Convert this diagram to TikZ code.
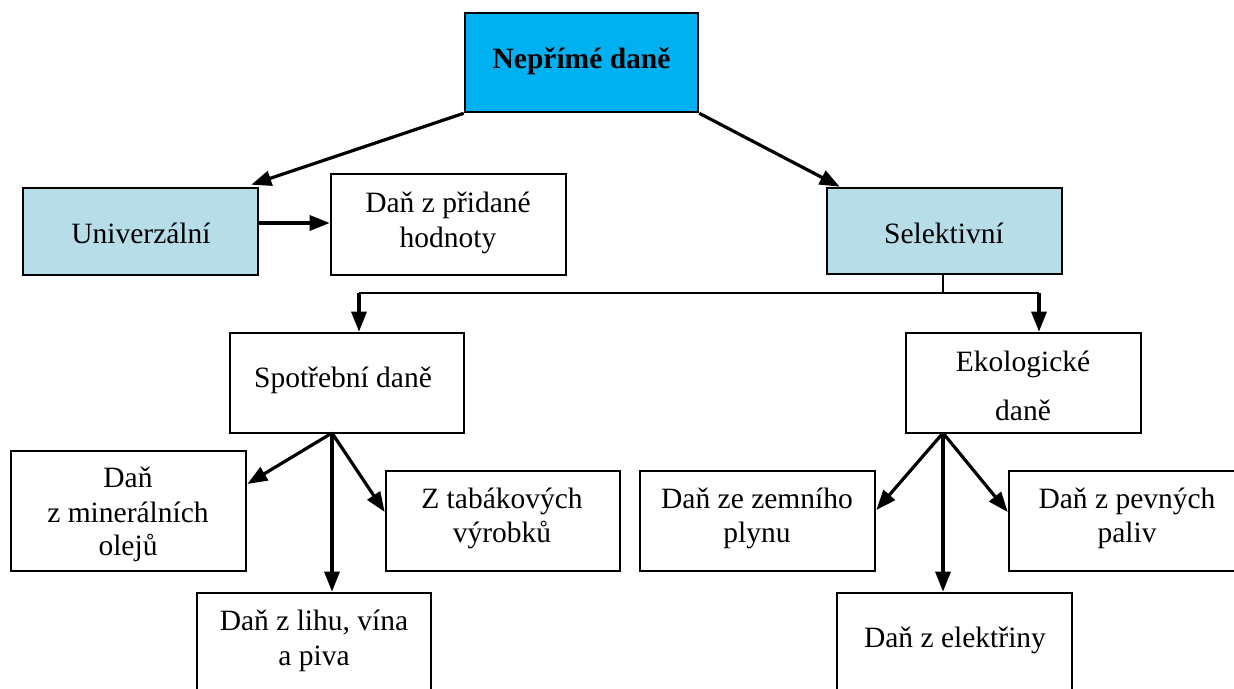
\documentclass[tikz,border=0pt]{standalone}
\usepackage{fontspec}
\setmainfont{Liberation Serif}
\usetikzlibrary{arrows.meta,calc}
\definecolor{topblue}{HTML}{00B0F0}
\definecolor{paleblue}{HTML}{B7DDE8}
\begin{document}
\begin{tikzpicture}[x=1pt,y=-1pt,
  box/.style={draw=black,line width=2.6pt,inner sep=0pt,fill=white},
  lbl/.style={anchor=base,inner sep=0pt,font=\fontsize{29.5}{34}\selectfont},
  conn/.style={line width=3.2pt,-{Triangle[length=20pt,width=15pt]}},
  thin/.style={line width=2.3pt}]
\useasboundingbox (0,0) rectangle (1234,688);
\clip (0,0) rectangle (1234,688);
\fill[white] (0,0) rectangle (1234,688);
% boxes
\node[box,fill=topblue,minimum width=233pt,minimum height=99pt] (top) at (581.5,62.5) {};
\node[box,fill=paleblue,minimum width=235pt,minimum height=87pt] (univ) at (140.5,231.5) {};
\node[box,minimum width=235pt,minimum height=101pt] (dph) at (448.5,224.5) {};
\node[box,fill=paleblue,minimum width=235pt,minimum height=86pt] (sel) at (944.5,231) {};
\node[box,minimum width=234pt,minimum height=100pt] (spot) at (347,383) {};
\node[box,minimum width=235pt,minimum height=100pt] (eko) at (1023.5,383) {};
\node[box,minimum width=235pt,minimum height=120pt] (min) at (128.5,511) {};
\node[box,minimum width=234pt,minimum height=100pt] (tab) at (503,521) {};
\node[box,minimum width=234pt,minimum height=110pt] (lih) at (314,648) {};
\node[box,minimum width=235pt,minimum height=100pt] (zem) at (757.5,521) {};
\node[box,minimum width=235pt,minimum height=100pt] (pev) at (1126.5,521) {};
\node[box,minimum width=235pt,minimum height=110pt] (ele) at (954.5,648) {};
% texts
\node[lbl,font=\fontsize{29.5}{34}\selectfont\bfseries] (ttop) at (581.5,68) {Nepřímé daně};
\node[lbl] (tuniv) at (141,243) {Univerzální};
\node[lbl] (tdph1) at (448,212) {Daň z přidané};
\node[lbl] (tdph2) at (448,247) {hodnoty};
\node[lbl] (tsel) at (944,243) {Selektivní};
\node[lbl] (tspot) at (343,387) {Spotřební daně};
\node[lbl] (teko1) at (1023,371) {Ekologické};
\node[lbl] (teko2) at (1023,420) {daně};
\node[lbl] (tmin1) at (128,487) {Daň};
\node[lbl] (tmin2) at (128,522) {z minerálních};
\node[lbl] (tmin3) at (128,555) {olejů};
\node[lbl] (ttab1) at (502,508) {Z tabákových};
\node[lbl] (ttab2) at (502,542) {výrobků};
\node[lbl] (tlih1) at (314,630) {Daň z lihu, vína};
\node[lbl] (tlih2) at (314,665) {a piva};
\node[lbl] (tzem1) at (757,508) {Daň ze zemního};
\node[lbl] (tzem2) at (757,542) {plynu};
\node[lbl] (tpev1) at (1127,508) {Daň z pevných};
\node[lbl] (tpev2) at (1127,542) {paliv};
\node[lbl] (tele) at (955,647) {Daň z elektřiny};
% connector points
\coordinate (s0) at (332,433);
\coordinate (e0) at (943,433);
\coordinate (selb) at (943,275);
\coordinate (hm) at (943,293);
\coordinate (hl) at (359,293);
\coordinate (hr) at (1039,293);
% connectors
\draw[conn] (top.south west) -- ($(univ.north east)+(-8,-2)$);
\draw[conn] (top.south east) -- ($(sel.north west)+(14,0)$);
\draw[conn] (univ.east |- 0,223) -- (dph.west |- 0,223);
\draw[thin] (selb) -- (hm);
\draw[thin] (hl) -- (hr);
\draw[conn] (hl) -- (hl |- spot.north);
\draw[conn] (hr) -- (hr |- eko.north);
\draw[conn] (s0) -- (min.east |- 0,484);
\draw[conn] (s0) -- (s0 |- lih.north);
\draw[conn] (s0) -- (tab.west |- 0,512);
\draw[conn] (e0) -- (zem.east |- 0,510);
\draw[conn] (e0) -- (e0 |- ele.north);
\draw[conn] (e0) -- (pev.west |- 0,512);
\end{tikzpicture}
\end{document}
